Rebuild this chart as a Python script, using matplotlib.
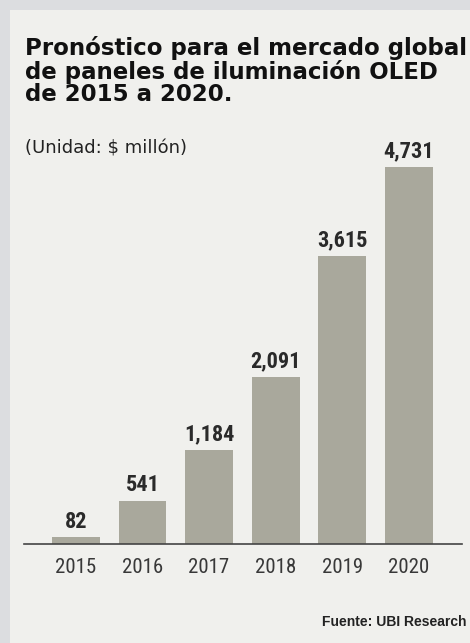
import matplotlib.pyplot as plt
from matplotlib.patches import Rectangle

# data
years = ['2015', '2016', '2017', '2018', '2019', '2020']
values = [82, 541, 1184, 2091, 3615, 4731]
value_labels = ['82', '541', '1,184', '2,091', '3,615', '4,731']

title = 'Pronóstico para el mercado global\nde paneles de iluminación OLED\nde 2015 a 2020.'
unit_text = '(Unidad: $ millón)'
source_text = 'Fuente: UBI Research'

W, H = 470, 643
fig = plt.figure(figsize=(W / 100, H / 100), dpi=100)
fig.patch.set_facecolor('#dcdde0')

# inner light panel
fig.patches.append(Rectangle((10 / W, 0), 1, 1 - 10 / H, transform=fig.transFigure,
                             facecolor='#f0f0ed', edgecolor='none', zorder=-1))

cond = ['Roboto Condensed', 'DejaVu Sans']

# axes: baseline at y=544 px, x span 24..462 px
ax_bottom = 1 - 544 / H
ax_top = 1 - 110 / H
ax = fig.add_axes([24 / W, ax_bottom, 438 / W, ax_top - ax_bottom])
ax.set_facecolor('none')
px_per_unit = 377 / 4731
ax.set_ylim(0, (544 - 110) / px_per_unit)
ax.set_xlim(-0.78, 5.8)

x = range(len(years))
ax.bar(x, values, width=0.72, color='#a9a89c', zorder=2)
for xi, v, lab in zip(x, values, value_labels):
    ax.text(xi, v + 60, lab, ha='center', va='bottom', fontsize=16,
            fontweight='bold', family=cond, stretch='condensed', color='#2a2a2a')

for s in ['top', 'right', 'left']:
    ax.spines[s].set_visible(False)
ax.spines['bottom'].set_color('#444444')
ax.spines['bottom'].set_linewidth(1.2)
ax.set_yticks([])
ax.set_xticks(list(x))
ax.set_xticklabels(years, fontsize=15, family=cond, stretch='condensed', color='#383838')
ax.tick_params(axis='x', length=0, pad=10)

fig.text(25 / W, 1 - 36 / H, title, ha='left', va='top', fontsize=16.5,
         fontweight='bold', family='DejaVu Sans', stretch='normal', color='#111111',
         linespacing=0.98)
fig.text(25 / W, 1 - 148 / H, unit_text, ha='left', va='center', fontsize=13,
         family='DejaVu Sans', stretch='normal', color='#222222')
fig.text(466 / W, 1 - 622 / H, source_text, ha='right', va='center', fontsize=10,
         fontweight='bold', family='Liberation Sans', color='#222222')

fig.savefig('out.png', dpi=100, facecolor=fig.get_facecolor())
